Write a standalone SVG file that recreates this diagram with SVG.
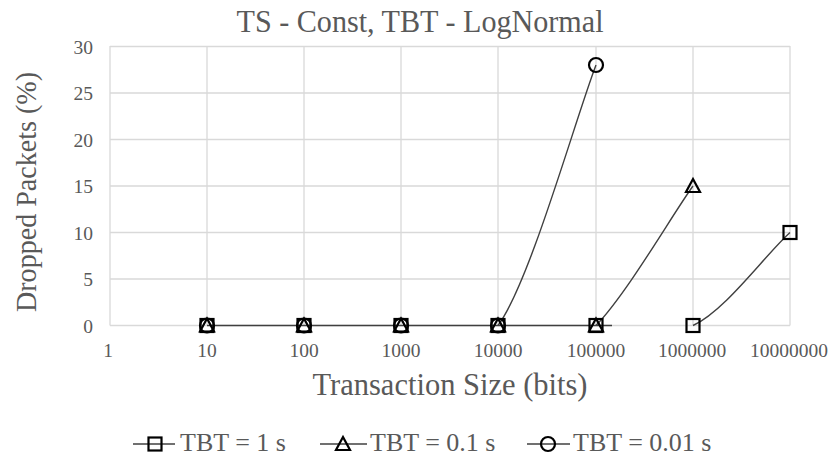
<svg xmlns="http://www.w3.org/2000/svg" width="830" height="461" viewBox="0 0 830 461">
<defs>
<style>
text{font-family:"Liberation Serif","Times New Roman",serif;fill:#595959}
.grid{stroke:#d9d9d9;stroke-width:1.3;fill:none}
.ser{stroke:#404040;stroke-width:1.4;fill:none}
.mk{stroke:#000;stroke-width:2.2;fill:none}
.tick{font-size:19.5px}
.leg{font-size:26px}
.legline{stroke:#404040;stroke-width:1.6}
</style>
<rect id="sq" x="-6.5" y="-6.5" width="13" height="13" class="mk"/>
<path id="tri" d="M0,-7 L7,6 L-7,6 Z" class="mk"/>
<circle id="cir" r="7" class="mk"/>
</defs>
<rect width="830" height="461" fill="#fff"/>
<text x="420" y="32" text-anchor="middle" font-size="32" textLength="367" lengthAdjust="spacingAndGlyphs">TS - Const, TBT - LogNormal</text>
<g id="grid">
<path class="grid" d="M110,46.5H790M110,93H790M110,139.5H790M110,186H790M110,232.5H790M110,279H790M110,325.5H790"/>
<path class="grid" d="M110,46V325.5M207,46V325.5M304,46V325.5M401,46V325.5M498,46V325.5M596,46V325.5M693,46V325.5M790,46V325.5"/>
</g>
<g id="yticks" class="tick" text-anchor="end">
<text x="93" y="53.5">30</text>
<text x="93" y="100">25</text>
<text x="93" y="146.5">20</text>
<text x="93" y="193">15</text>
<text x="93" y="239.5">10</text>
<text x="93" y="286">5</text>
<text x="93" y="332.5">0</text>
</g>
<g id="xticks" class="tick" text-anchor="middle">
<text x="108" y="357">1</text>
<text x="207" y="357">10</text>
<text x="304" y="357">100</text>
<text x="401" y="357">1000</text>
<text x="498" y="357">10000</text>
<text x="596" y="357">100000</text>
<text x="692" y="357">1000000</text>
<text x="789" y="357">10000000</text>
</g>
<text x="450" y="395" text-anchor="middle" font-size="31" textLength="275" lengthAdjust="spacingAndGlyphs">Transaction Size (bits)</text>
<text transform="translate(36,192) rotate(-90)" text-anchor="middle" font-size="29" textLength="240" lengthAdjust="spacingAndGlyphs">Dropped Packets (%)</text>
<g id="connectors">
<path class="ser" d="M207,325.5H612"/>
<path class="ser" d="M498,325.5C530,282 575,120 596,65"/>
<path class="ser" d="M596,325.5C628,292 672,215 693,186"/>
<path class="ser" d="M693,325.5C725,311 765,255 790,232.5"/>
</g>
<g id="markers">
<use href="#sq" x="207" y="325.5"/><use href="#tri" x="207" y="325.5"/><use href="#cir" x="207" y="325.5"/>
<use href="#sq" x="304" y="325.5"/><use href="#tri" x="304" y="325.5"/><use href="#cir" x="304" y="325.5"/>
<use href="#sq" x="401" y="325.5"/><use href="#tri" x="401" y="325.5"/><use href="#cir" x="401" y="325.5"/>
<use href="#sq" x="498" y="325.5"/><use href="#tri" x="498" y="325.5"/><use href="#cir" x="498" y="325.5"/>
<use href="#sq" x="596" y="325.5"/><use href="#tri" x="596" y="325.5"/>
<use href="#cir" x="596" y="65"/>
<use href="#tri" x="693" y="186"/>
<use href="#sq" x="693" y="325.5"/>
<use href="#sq" x="790" y="232.5"/>
</g>
<g id="legend">
<g id="leg1"><path class="legline" d="M133,444H175"/><use href="#sq" x="155" y="444"/><text class="leg" x="180" y="451">TBT = 1 s</text></g>
<g id="leg2"><path class="legline" d="M320,444H367"/><use href="#tri" x="343" y="444"/><text class="leg" x="370" y="451">TBT = 0.1 s</text></g>
<g id="leg3"><path class="legline" d="M527,444H570"/><use href="#cir" x="548" y="444"/><text class="leg" x="573" y="451">TBT = 0.01 s</text></g>
</g>
</svg>
